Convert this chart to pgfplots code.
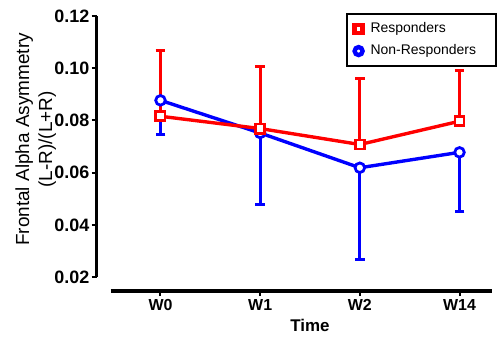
\documentclass[border=0pt]{standalone}
\usepackage{pgfplots}
\pgfplotsset{compat=1.18}
\usepackage{fontspec}
\setmainfont{Liberation Sans}
\begin{document}
\begin{tikzpicture}
\begin{axis}[
  scale only axis,
  width=200pt, height=138pt,
  xmin=-0.64, xmax=3.36,
  ymin=0.0147, ymax=0.12,
  clip=false,
  axis line style={draw=none},
  xtick={0,1,2,3},
  xticklabels={W0,W1,W2,W14},
  xtick pos=bottom,
  xtick style={line width=1pt, black},
  ytick={0.02,0.04,0.06,0.08,0.10,0.12},
  ytick pos=left,
  tick align=outside,
  ytick style={line width=1pt, black},
  major tick length=2.5pt,
  yticklabel style={font=\fontsize{9}{10}\selectfont\bfseries, inner xsep=1pt, /pgf/number format/.cd, fixed, fixed zerofill, precision=2, assume math mode=true},
  xticklabel style={font=\fontsize{8}{9}\selectfont\bfseries, yshift=2pt},
  xlabel={Time},
  xlabel style={at={(axis description cs:0.535,-0.125)}, anchor=center, font=\fontsize{8.5}{10}\selectfont\bfseries},
  ylabel={Frontal Alpha Asymmetry\\(L-R)/(L+R)},
  ylabel style={at={(axis description cs:-0.153,0.551)}, anchor=center, align=center, font=\fontsize{9.5}{11.5}\selectfont},
  legend style={at={(axis description cs:1.004,1.009)}, anchor=north east, draw=black, line width=1pt,
    font=\fontsize{7}{8}\selectfont, inner xsep=4pt, inner ysep=2pt, row sep=0.5pt},
  legend cell align=left,
]
\addlegendimage{only marks, mark=square*, draw=red, fill=white, mark size=2pt, mark options={line width=2.2pt, draw=red, fill=white}}
\addlegendentry{\hspace*{2pt}Responders\hspace*{4pt}}
\addlegendimage{only marks, mark=*, draw=blue, fill=white, mark size=2pt, mark options={line width=2.2pt, draw=blue, fill=white}}
\addlegendentry{\hspace*{2pt}Non-Responders\hspace*{4pt}}

% Non-Responders (blue), downward error bars
\addplot[forget plot, blue, line width=1.7pt, mark=*, mark size=2.4pt,
  mark options={draw=blue, fill=white, line width=1.4pt},
  error bars/.cd, y dir=minus, y explicit,
  error bar style={line width=1.5pt, blue},
  error mark options={rotate=90, mark size=2.4pt, line width=1.5pt, blue}]
  table[x=x, y=y, y error=e] {
x y e
0 0.0877 0.0130
1 0.0752 0.0272
2 0.0619 0.0350
3 0.0678 0.0228
};

% Responders (red), upward error bars
\addplot[forget plot, red, line width=1.7pt, mark=square*, mark size=2.3pt,
  mark options={draw=red, fill=white, line width=1.4pt},
  error bars/.cd, y dir=plus, y explicit,
  error bar style={line width=1.5pt, red},
  error mark options={rotate=90, mark size=2.4pt, line width=1.5pt, red}]
  table[x=x, y=y, y error=e] {
x y e
0 0.0816 0.0250
1 0.0769 0.0239
2 0.0708 0.0252
3 0.0797 0.0193
};

\draw[line width=1.6pt, black] (axis cs:-0.64,0.02) -- (axis cs:-0.64,0.12);
\draw[line width=1.6pt, black] (axis cs:-0.5,0.0147) -- (axis cs:3.33,0.0147);
\path (axis description cs:-0.2425,-0.1775) rectangle (axis description cs:1,1.058);
\end{axis}
\end{tikzpicture}
\end{document}
